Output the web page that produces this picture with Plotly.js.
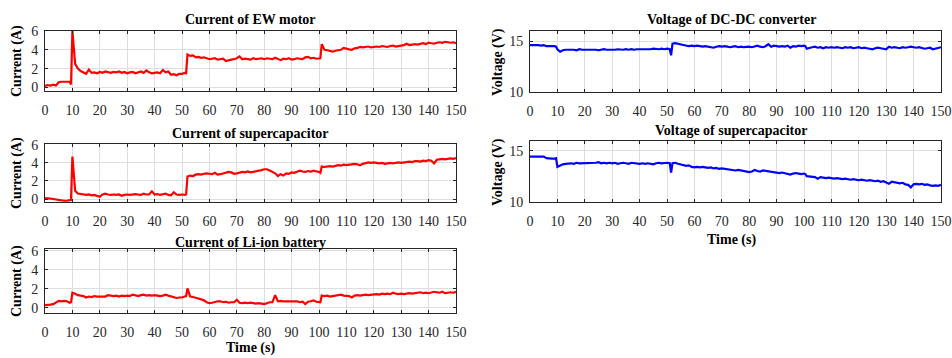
<!DOCTYPE html>
<html>
<head>
<meta charset="utf-8">
<script src="https://cdn.plot.ly/plotly-3.0.1.min.js"></script>
<style>
  html, body { margin: 0; padding: 0; background: #fff; }
  #chart { width: 952px; height: 358px; }
</style>
</head>
<body>
<div id="chart"></div>
<script>
// Sample times (s): one sample per second plus extra samples around the switching events
const time = [
  0, 1, 2, 3, 4, 5, 6, 7, 8, 9, 9.5,
  10, 11, 12, 13, 14, 15, 16, 17, 18, 19,
  20, 21, 22, 23, 24, 25, 26, 27, 28, 29,
  30, 31, 32, 33, 34, 35, 36, 37, 38, 39,
  40, 41, 42, 43, 44, 45, 46, 47, 48, 49,
  50, 51, 51.5,
  52, 53, 54, 55, 56, 57, 58, 59,
  60, 61, 62, 63, 64, 65, 66, 67, 68, 69,
  70, 71, 72, 73, 74, 75, 76, 77, 78, 79,
  80, 81, 82, 83, 84, 85, 86, 87, 88, 89,
  90, 91, 92, 93, 94, 95, 96, 97, 98, 99,
  100, 100.5,
  101, 102, 103, 104, 105, 106, 107, 108, 109, 110,
  111, 112, 113, 114, 115, 116, 117, 118, 119, 120,
  121, 122, 123, 124, 125, 126, 127, 128, 129, 130,
  131, 132, 133, 134, 135, 136, 137, 138, 139, 140,
  141, 142, 143, 144, 145, 146, 147, 148, 149, 150
];

// Current of EW motor (A)
const motorCurrent = [
  0.15, 0.25, 0.2, 0.3, 0.2, 0.55, 0.6, 0.6, 0.65, 0.6, 0.3,
  6.0, 2.5, 2.0, 1.75, 1.6, 1.45, 1.9, 1.55, 1.6, 1.5,
  1.65, 1.55, 1.7, 1.6, 1.55, 1.65, 1.6, 1.7, 1.55, 1.65,
  1.5, 1.6, 1.65, 1.5, 1.6, 1.7, 1.55, 1.8, 1.6, 1.5,
  1.55, 1.6, 1.5, 1.85, 1.6, 1.7, 1.35, 1.4, 1.3, 1.45,
  1.45, 1.55, 1.5,
  3.5, 3.35, 3.4, 3.2, 3.25, 3.15, 3.2, 3.1,
  3.0, 3.05, 3.1, 2.95, 3.0, 3.05, 2.8, 2.9, 2.95, 3.0,
  3.1, 3.3, 3.0, 3.05, 3.0, 2.95, 3.1, 3.0, 3.05, 3.1,
  3.0, 3.1, 3.05, 3.0, 3.15, 3.0, 2.9, 3.05, 3.0, 3.1,
  2.95, 3.0, 3.1, 3.05, 3.0, 3.2, 3.25, 3.1, 3.15, 3.05,
  3.1, 3.1,
  4.6, 4.0, 3.95, 3.85, 3.8, 3.9, 3.95, 4.0, 4.2, 4.1,
  4.05, 4.0, 4.15, 4.2, 4.3, 4.25, 4.3, 4.35, 4.25, 4.3,
  4.35, 4.3, 4.4, 4.35, 4.3, 4.4, 4.45, 4.35, 4.4, 4.45,
  4.5, 4.65, 4.5, 4.55, 4.6, 4.55, 4.65, 4.7, 4.6, 4.75,
  4.7, 4.65, 4.75, 4.8, 4.75, 4.85, 4.8, 4.75, 4.8, 4.7
];

// Current of supercapacitor (A)
const scCurrent = [
  0.1, 0.1, 0.05, 0.0, -0.05, -0.15, -0.2, -0.2, -0.2, -0.15, -0.1,
  4.7, 0.9, 0.6, 0.55, 0.5, 0.45, 0.5, 0.4, 0.45, 0.35,
  0.25, 0.5, 0.6, 0.5, 0.45, 0.5, 0.45, 0.5, 0.35, 0.45,
  0.5, 0.45, 0.5, 0.55, 0.5, 0.45, 0.6, 0.5, 0.5, 0.85,
  0.5, 0.55, 0.45, 0.5, 0.6, 0.45, 0.4, 0.75, 0.5, 0.45,
  0.5, 0.45, 0.5,
  2.5, 2.6, 2.55, 2.7, 2.75, 2.7, 2.8, 2.85,
  2.8, 2.75, 2.9, 2.7, 2.75, 2.85, 2.9, 3.0, 2.95, 2.8,
  2.85, 2.9, 3.0, 2.95, 3.05, 2.95, 3.0, 3.1, 3.15, 3.2,
  3.3, 3.3, 3.15, 3.0, 2.85, 2.55, 2.75, 2.6, 2.85, 2.8,
  2.95, 2.9, 3.05, 3.15, 3.05, 3.0, 3.1, 3.05, 3.15, 3.1,
  3.0, 2.9,
  3.6, 3.55, 3.6, 3.65, 3.6, 3.7, 3.75, 3.7, 3.8, 3.75,
  3.8, 3.85, 3.9, 3.85, 3.75, 3.9, 3.95, 4.05, 4.0, 4.05,
  4.0, 3.95, 4.0, 3.9, 3.95, 4.0, 3.95, 4.0, 4.05, 4.0,
  4.05, 4.1, 4.15, 4.1, 4.2, 4.2, 4.15, 4.25, 4.2, 4.3,
  4.25, 3.95, 4.35, 4.4, 4.45, 4.4, 4.45, 4.5, 4.45, 4.55
];

// Current of Li-ion battery (A)
const batteryCurrent = [
  0.3, 0.3, 0.35, 0.4, 0.55, 0.75, 0.7, 0.75, 0.7, 0.55, 0.6,
  1.6, 1.5, 1.35, 1.3, 1.25, 1.1, 1.2, 1.15, 1.25, 1.2,
  1.2, 1.25, 1.2, 1.35, 1.3, 1.25, 1.3, 1.2, 1.3, 1.25,
  1.3, 1.25, 1.4, 1.3, 1.25, 1.35, 1.4, 1.3, 1.35, 1.3,
  1.35, 1.3, 1.25, 1.3, 1.4, 1.3, 1.2, 1.15, 1.05, 1.1,
  1.1, 1.2, 1.25,
  2.05, 1.2, 1.15, 1.1, 1.0, 0.9, 0.8, 0.6,
  0.5, 0.55, 0.65, 0.7, 0.7, 0.6, 0.65, 0.55, 0.6, 0.6,
  0.85, 0.55, 0.5, 0.55, 0.5, 0.55, 0.5, 0.45, 0.5, 0.45,
  0.4, 0.5, 0.6, 0.6, 1.35, 0.7, 0.75, 0.7, 0.7, 0.65,
  0.7, 0.65, 0.7, 0.6, 0.65, 0.4, 0.65, 0.7, 0.8, 0.65,
  0.6, 0.6,
  1.3, 1.25, 1.3, 1.2, 1.25, 1.3, 1.35, 1.4, 1.3, 1.3,
  1.25, 1.1, 1.3, 1.35, 1.3, 1.35, 1.4, 1.35, 1.4, 1.4,
  1.45, 1.4, 1.5, 1.45, 1.5, 1.45, 1.6, 1.5, 1.45, 1.5,
  1.45, 1.5, 1.55, 1.5, 1.55, 1.6, 1.65, 1.55, 1.6, 1.55,
  1.6, 1.7, 1.65, 1.6, 1.7, 1.55, 1.6, 1.65, 1.6, 1.7
];

// Voltage of DC-DC converter (V)
const dcdcVoltage = [
  14.6, 14.6, 14.65, 14.6, 14.55, 14.6, 14.5, 14.5, 14.55, 14.5, 14.45,
  14.2, 13.95, 14.1, 14.15, 14.15, 14.2, 14.15, 14.1, 14.2, 14.15,
  14.15, 14.2, 14.15, 14.2, 14.15, 14.1, 14.15, 14.2, 14.15, 14.15,
  14.1, 14.15, 14.2, 14.15, 14.15, 14.2, 14.15, 14.2, 14.15, 14.2,
  14.2, 14.15, 14.2, 14.15, 14.2, 14.25, 14.2, 14.2, 14.25, 14.2,
  14.25, 14.2, 13.6,
  14.75, 14.8, 14.75, 14.7, 14.6, 14.55, 14.5, 14.55,
  14.5, 14.55, 14.5, 14.45, 14.5, 14.45, 14.4, 14.35, 14.45, 14.5,
  14.45, 14.5, 14.45, 14.4, 14.45, 14.5, 14.4, 14.45, 14.4, 14.45,
  14.45, 14.4, 14.5, 14.55, 14.45, 14.4, 14.5, 14.7, 14.45, 14.55,
  14.5, 14.45, 14.5, 14.45, 14.55, 14.35, 14.5, 14.45, 14.55, 14.5,
  14.55, 14.5,
  14.25, 14.35, 14.4, 14.45, 14.35, 14.4, 14.3, 14.4, 14.35, 14.4,
  14.35, 14.4, 14.35, 14.3, 14.4, 14.35, 14.4, 14.3, 14.35, 14.4,
  14.3, 14.35, 14.3, 14.25, 14.2, 14.3, 14.35, 14.3, 14.25, 14.2,
  14.45, 14.35, 14.4, 14.35, 14.3, 14.4, 14.35, 14.4, 14.45, 14.4,
  14.35, 14.4, 14.3, 14.25, 14.3, 14.35, 14.2, 14.25, 14.3, 14.4
];

// Voltage of supercapacitor (V)
const scVoltage = [
  14.45, 14.45, 14.4, 14.45, 14.4, 14.45, 14.3, 14.25, 14.25, 14.25, 14.3,
  13.45, 13.6, 13.7, 13.75, 13.8, 13.8, 13.75, 13.85, 13.8, 13.8,
  13.85, 13.8, 13.85, 13.8, 13.85, 13.9, 13.8, 13.85, 13.8, 13.85,
  13.8, 13.85, 13.75, 13.8, 13.85, 13.8, 13.75, 13.85, 13.8, 13.75,
  13.75, 13.8, 13.75, 13.8, 13.75, 13.7, 13.8, 13.85, 13.8, 13.85,
  13.85, 13.8, 12.9,
  13.8, 13.85, 13.75, 13.7, 13.6, 13.55, 13.6, 13.45,
  13.4, 13.45, 13.4, 13.45, 13.4, 13.35, 13.4, 13.3, 13.35, 13.25,
  13.3, 13.25, 13.2, 13.2, 13.15, 13.1, 13.15, 13.1, 13.05, 13.0,
  12.95, 13.0, 13.15, 13.05, 13.0, 13.1, 13.05, 13.0, 12.95, 12.95,
  12.9, 12.85, 12.9, 12.85, 12.8, 12.7, 12.8, 12.85, 12.8, 12.75,
  12.8, 12.75,
  12.55, 12.5, 12.5, 12.45, 12.3, 12.45, 12.4, 12.35, 12.4, 12.35,
  12.3, 12.35, 12.3, 12.25, 12.3, 12.25, 12.2, 12.25, 12.2, 12.15,
  12.2, 12.15, 12.1, 12.15, 12.1, 12.05, 12.1, 12.0, 12.05, 11.95,
  11.8, 12.0, 11.95, 11.95, 11.85, 11.9, 11.75, 11.7, 11.45, 11.75,
  11.8, 11.75, 11.8, 11.7, 11.75, 11.65, 11.6, 11.65, 11.6, 11.7
];

const xTicks = [0, 10, 20, 30, 40, 50, 60, 70, 80, 90, 100, 110, 120, 130, 140, 150];
const currentTicks = [0, 2, 4, 6];
const voltageTicks = [10, 15];

const W = 952, H = 358;
const FONT = "'Liberation Serif', 'Times New Roman', serif";
const px = v => v / W;          // pixel -> paper x
const py = v => 1 - v / H;      // pixel -> paper y

const RED = '#ff0000', BLUE = '#0000ff';

function trace(y, color, xa, ya) {
  return {
    x: time, y: y, xaxis: xa, yaxis: ya, type: 'scatter', mode: 'lines',
    line: { color: color, width: 2.2 }, hoverinfo: 'skip', showlegend: false
  };
}

const data = [
  trace(motorCurrent, RED, 'x', 'y'),
  trace(scCurrent, RED, 'x2', 'y2'),
  trace(batteryCurrent, RED, 'x3', 'y3'),
  trace(dcdcVoltage, BLUE, 'x4', 'y4'),
  trace(scVoltage, BLUE, 'x5', 'y5')
];

function axisBase() {
  return {
    ticks: 'inside', ticklen: 3, tickcolor: '#262626',
    showgrid: true, gridcolor: '#dedede', gridwidth: 1,
    showline: true, linecolor: '#262626', linewidth: 1, mirror: 'ticks',
    zeroline: false, tickfont: { family: FONT, size: 14, color: '#262626' }
  };
}
function xAxis(domain, anchor) {
  return Object.assign(axisBase(), {
    domain: domain, anchor: anchor, range: [0, 150],
    tickmode: 'array', tickvals: xTicks, ticktext: xTicks.map(String),
    ticklabelstandoff: 6
  });
}
function yAxis(domain, anchor, range, ticks) {
  return Object.assign(axisBase(), {
    domain: domain, anchor: anchor, range: range,
    tickmode: 'array', tickvals: ticks, ticktext: ticks.map(String),
    ticklabelstandoff: 3
  });
}

const leftX = [px(45), px(456)];
const rightX = [px(530), px(941)];

function label(text, x, y, opts) {
  return Object.assign({
    text: text, x: px(x), y: py(y), xref: 'paper', yref: 'paper',
    xanchor: 'center', yanchor: 'middle', showarrow: false,
    font: { family: FONT, size: 14, color: '#000' }
  }, opts || {});
}

const annotations = [
  label('<b>Current of EW motor</b>', 250, 19),
  label('<b>Current of supercapacitor</b>', 250, 133),
  label('<b>Current of Li-ion battery</b>', 250, 242),
  label('<b>Time (s)</b>', 250, 348),
  label('<b>Voltage of DC-DC converter</b>', 731, 19),
  label('<b>Voltage of supercapacitor</b>', 731, 130),
  label('<b>Time (s)</b>', 731, 240),
  label('<b>Current (A)</b>', 17, 61, { textangle: -90 }),
  label('<b>Current (A)</b>', 17, 173, { textangle: -90 }),
  label('<b>Current (A)</b>', 17, 281, { textangle: -90 }),
  label('<b>Voltage (V)</b>', 498, 62, { textangle: -90 }),
  label('<b>Voltage (V)</b>', 498, 172, { textangle: -90 })
];

const layout = {
  width: W, height: H,
  margin: { l: 0, r: 0, t: 0, b: 0 },
  paper_bgcolor: '#fff', plot_bgcolor: '#fff',
  font: { family: FONT },
  showlegend: false,
  xaxis: xAxis(leftX, 'y'),
  yaxis: yAxis([py(90.7), py(31)], 'x', [-0.35, 6], currentTicks),
  xaxis2: xAxis(leftX, 'y2'),
  yaxis2: yAxis([py(201.7), py(144)], 'x2', [-0.3, 6.1], currentTicks),
  xaxis3: xAxis(leftX, 'y3'),
  yaxis3: yAxis([py(312.7), py(249)], 'x3', [-0.5, 6.2], currentTicks),
  xaxis4: xAxis(rightX, 'y4'),
  yaxis4: yAxis([py(92.3), py(31)], 'x4', [9.95, 16], voltageTicks),
  xaxis5: xAxis(rightX, 'y5'),
  yaxis5: yAxis([py(202.3), py(140.7)], 'x5', [10, 16], voltageTicks),
  annotations: annotations
};

Plotly.newPlot('chart', data, layout, { displayModeBar: false, staticPlot: true });
</script>
</body>
</html>
